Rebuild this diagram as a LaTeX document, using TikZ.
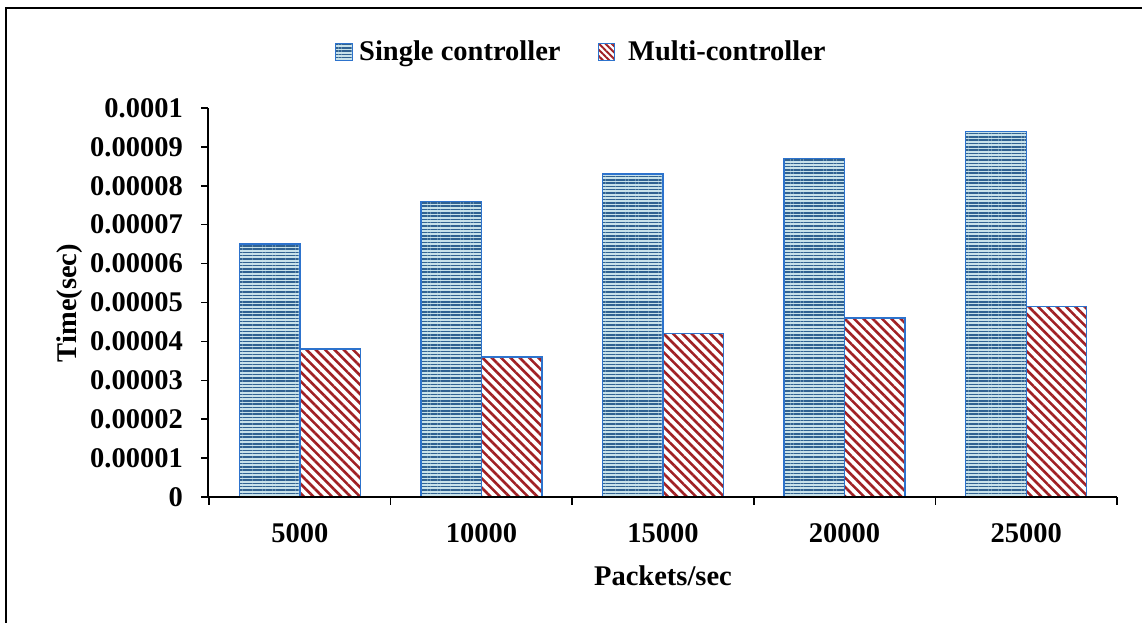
\documentclass[tikz,border=0pt]{standalone}
\usepackage{fontspec}
\setmainfont{Liberation Serif}
\usetikzlibrary{patterns.meta}
\definecolor{barblue}{RGB}{45,115,205}
\definecolor{sline}{RGB}{48,98,145}
\definecolor{sfill}{RGB}{200,226,234}
\definecolor{mred}{RGB}{160,32,36}
\tikzset{
  lbl/.style={font=\fontsize{28.5}{30}\selectfont\bfseries, inner sep=0pt},
  sbar/.style={draw=barblue, line width=1.4pt, preaction={fill=sfill},
    pattern={Lines[angle=0,distance=3.3pt,line width=1.5pt]}, pattern color=sline},
  mbar/.style={draw=barblue, line width=1.4pt, preaction={fill=white},
    pattern={Lines[angle=-45,distance=6.6pt,line width=2.6pt]}, pattern color=mred},
  axisline/.style={draw=black, line width=1.8pt},
  tickline/.style={draw=black, line width=1.5pt}
}
\begin{document}
\begin{tikzpicture}[x=1pt,y=-1pt]
\useasboundingbox (0,0) rectangle (1142,622);
\fill[white] (0,0) rectangle (1142,622);
% outer frame
\draw[line width=2pt] (6,8) rectangle (1170,650);
% legend
\draw[sbar, line width=1pt] (335,43) rectangle (352,60);
\node[lbl, anchor=base west] (legs) at (359,60) {Single controller};
\draw[mbar, line width=1pt, pattern={Lines[angle=-45,distance=4.5pt,line width=2pt]}] (598,43) rectangle (614,60);
\node[lbl, anchor=base west] (legm) at (628,60) {Multi-controller};
% bars
\foreach \i/\s/\m in {1/65/38,2/76/36,3/83/42,4/87/46,5/94/49} {
  \pgfmathsetmacro\c{209+181.6*(\i-0.5)}
  \draw[sbar] (\c-60.5,497) rectangle (\c,{497-3.89*\s});
  \draw[mbar] (\c,497) rectangle (\c+60.5,{497-3.89*\m});
}
% y ticks and labels
\foreach \k/\t in {0/0,1/0.00001,2/0.00002,3/0.00003,4/0.00004,5/0.00005,6/0.00006,7/0.00007,8/0.00008,9/0.00009,10/0.0001} {
  \draw[tickline] (201,{497-38.9*\k}) -- (208,{497-38.9*\k});
  \node[lbl, anchor=east] (yl\k) at (183,{497-38.9*\k}) {\t};
}
% x ticks and labels
\foreach \k in {0,...,5} {
  \draw[tickline] ({209+181.6*\k},497) -- ({209+181.6*\k},505);
}
\foreach \i/\t in {1/5000,2/10000,3/15000,4/20000,5/25000} {
  \node[lbl, anchor=base] (xl\i) at ({209+181.6*(\i-0.5)},542) {\t};
}
% axes
\draw[axisline] (208,108) -- (208,497) -- (1117,497);
% axis titles
\node[lbl, anchor=base] (xt) at (663,585) {Packets/sec};
\node[lbl, anchor=base, rotate=90] (yt) at (76,303) {Time(sec)};
\end{tikzpicture}
\end{document}
